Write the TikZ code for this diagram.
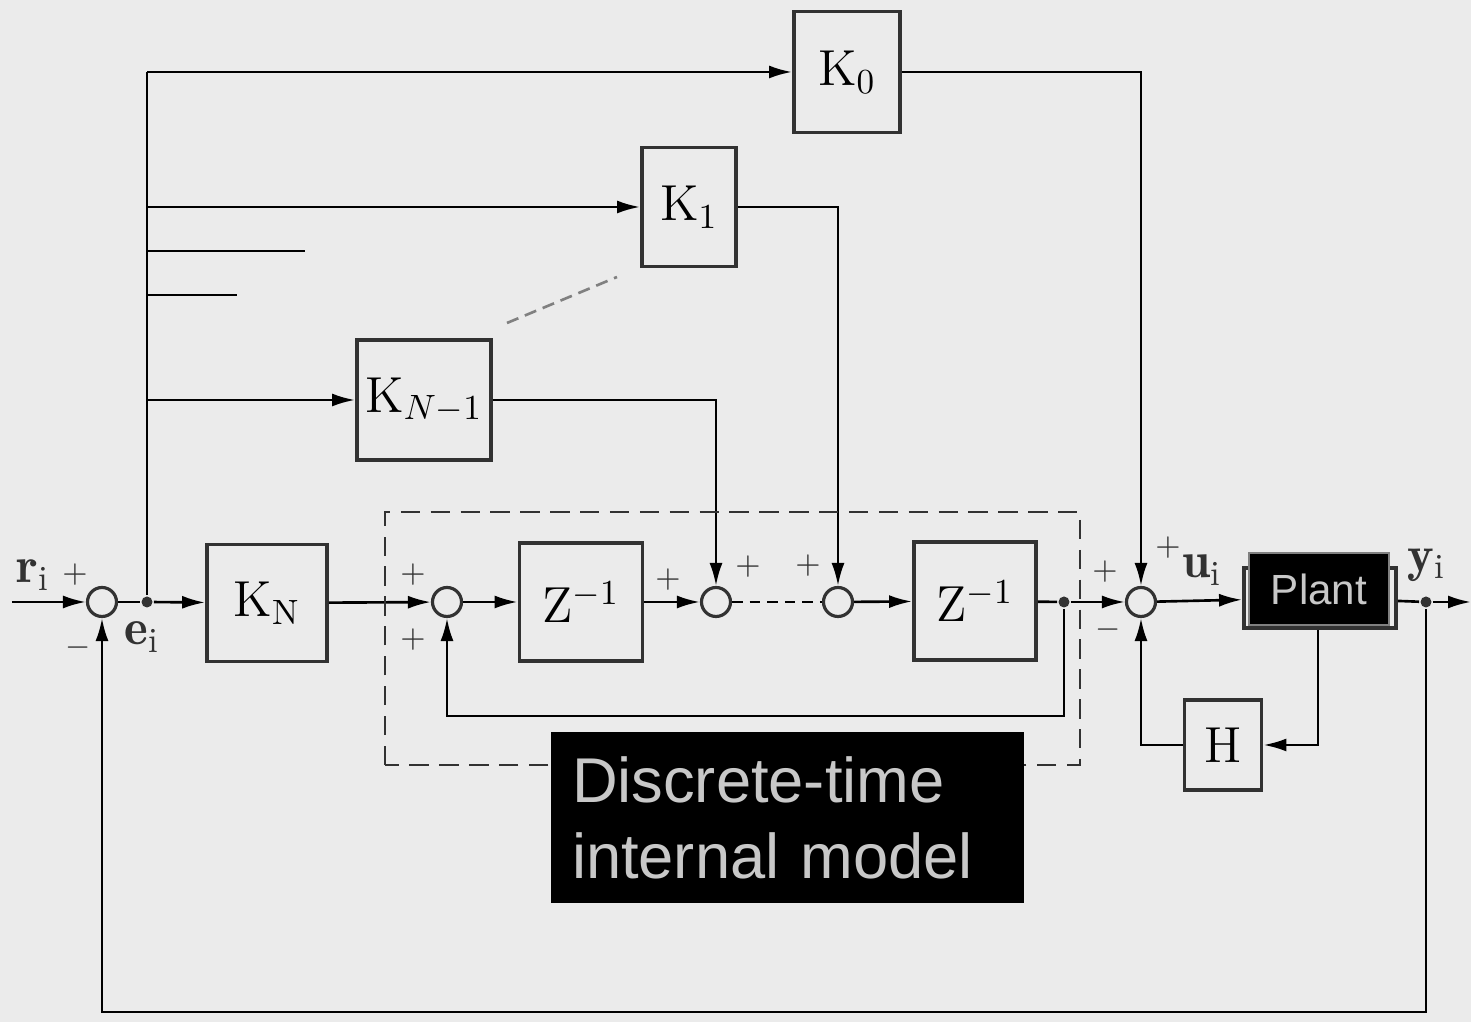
\documentclass[tikz,border=0pt]{standalone}
\usepackage{tikz}
\usetikzlibrary{arrows.meta, calc}
\usepackage{fontspec}
\newfontfamily\capfont{Liberation Sans}
\definecolor{paper}{RGB}{235,235,235}
\definecolor{ink}{RGB}{50,50,50}
\definecolor{pale}{RGB}{200,200,200}

\begin{document}
\begin{tikzpicture}[
        line width=0.75pt,
        block/.style={draw=ink, line width=1.1pt, inner sep=0pt, font=\Large},
        sum/.style={circle, draw=ink, line width=0.9pt, fill=paper, minimum size=0.29cm, inner sep=0pt},
        junction/.style={circle, fill=ink, minimum size=0.11cm, inner sep=0pt},
        sig/.style={-{Latex[length=2.3mm,width=1.3mm]}},
        sign/.style={font=\small, text=ink},
        var/.style={font=\Large, text=ink}
    ]
        % Background
        \fill[paper] (0,0) rectangle (14.71,10.22);
        \useasboundingbox (0,0) rectangle (14.71,10.22);

        % Main loop
        \coordinate (rin) at (0.12,4.20);
        \node[sum] (s1) at (1.02,4.20) {};
        \node[junction] (e) at (1.47,4.20) {};
        \node[block, minimum width=1.20cm, minimum height=1.17cm] (kn) at (2.67,4.19) {$\mathrm{K}_{\mathrm{N}}$};
        \node[sum] (s2) at (4.47,4.20) {};
        \node[block, minimum width=1.23cm, minimum height=1.18cm] (z1) at (5.81,4.20) {$\mathrm{Z}^{-1}$};
        \node[sum] (s3) at (7.16,4.20) {};
        \node[sum] (s4) at (8.38,4.20) {};
        \node[block, minimum width=1.22cm, minimum height=1.18cm] (z2) at (9.75,4.21) {$\mathrm{Z}^{-1}$};
        \node[junction] (zo) at (10.64,4.20) {};
        \node[sum] (s5) at (11.41,4.20) {};
        \node[draw=ink, line width=1.1pt, minimum width=1.52cm, minimum height=0.60cm] (plant) at (13.20,4.24) {};
        \node[fill=black, draw=gray, line width=0.8pt, minimum width=1.40cm, minimum height=0.72cm, text=pale, font=\capfont\fontsize{12}{14}\selectfont] (plantbox) at (13.19,4.33) {Plant};
        \node[junction] (yo) at (14.26,4.20) {};
        \coordinate (yout) at (14.71,4.20);
        \node[block, minimum width=0.77cm, minimum height=0.90cm] (h) at (12.23,2.77) {$\mathrm{H}$};

        % Gains
        \node[block, minimum width=1.06cm, minimum height=1.21cm] (k0) at (8.47,9.50) {$\mathrm{K}_{0}$};
        \node[block, minimum width=0.94cm, minimum height=1.19cm] (k1) at (6.89,8.15) {$\mathrm{K}_{1}$};
        \node[block, minimum width=1.34cm, minimum height=1.20cm] (kn1) at (4.24,6.22) {$\mathrm{K}_{N-1}$};

        % Forward path
        \draw[sig] (rin) -- (s1);
        \draw (s1) -- (e);
        \draw[sig] (e) -- (kn);
        \draw[sig] (kn) -- (s2);
        \draw[sig] (s2) -- (z1);
        \draw[sig] (z1) -- (s3);
        \draw[dashed, dash pattern=on 3pt off 2pt] (s3) -- (s4);
        \draw[sig] (s4) -- (z2);
        \draw (z2) -- (zo);
        \draw[sig] (zo) -- (s5);
        \draw[sig] (s5) -- (plant);
        \draw (plant) -- (yo);
        \draw[sig] (yo) -- (yout);

        % Feedback
        \draw[sig] (yo) -- ++(0,-4.10) -| (s1);
        \draw[sig] (zo) -- ++(0,-1.14) -| (s2);
        \draw[sig] (plant.south -| 13.18,0) |- (h);
        \draw[sig] (h) -| (s5);

        % Gain branches
        \draw (e) -- (e |- k0);
        \draw[sig] (e |- k0) -- (k0);
        \draw[sig] (e |- k1) -- (k1);
        \draw[sig] (e |- kn1) -- (kn1);
        \coordinate (stubA) at (3.05,7.71);
        \coordinate (stubB) at (2.37,7.27);
        \draw (e |- stubA) -- (stubA);
        \draw (e |- stubB) -- (stubB);
        \draw[sig] (k0) -| (s5);
        \draw[sig] (k1) -| (s4);
        \draw[sig] (kn1) -| (s3);
        \coordinate (dotsA) at (5.07,6.99);
        \coordinate (dotsB) at (6.17,7.45);
        \draw[dashed, dash pattern=on 3.5pt off 2pt, gray] (dotsA) -- (dotsB);

        % Internal model frame
        \draw[dashed, dash pattern=on 5.5pt off 3pt, ink] (3.85,2.57) rectangle (10.80,5.10);

        % Signs
        \node[sign] at (0.75,4.47) {$+$};
        \node[sign] at (0.78,3.74) {$-$};
        \node[sign] at (4.13,4.47) {$+$};
        \node[sign] at (4.13,3.82) {$+$};
        \node[sign] at (6.68,4.42) {$+$};
        \node[sign] at (7.48,4.55) {$+$};
        \node[sign] at (8.08,4.56) {$+$};
        \node[sign] at (11.05,4.50) {$+$};
        \node[sign] at (11.68,4.74) {$+$};
        \node[sign] at (11.08,3.92) {$-$};

        % Signals
        \node[var] at (0.33,4.47) {$\mathbf{r}_{\mathrm{i}}$};
        \node[var] at (1.42,3.85) {$\mathbf{e}_{\mathrm{i}}$};
        \node[var] at (12.02,4.52) {$\mathbf{u}_{\mathrm{i}}$};
        \node[var] at (14.27,4.57) {$\mathbf{y}_{\mathrm{i}}$};

        % Caption
        \node[fill=black, minimum width=4.73cm, minimum height=1.71cm, text width=4.31cm, align=left, text=pale, font=\capfont\fontsize{18}{21.6}\selectfont] (caption) at (7.875,2.045) {Discrete-time\\internal model};
    \end{tikzpicture}
\end{document}
